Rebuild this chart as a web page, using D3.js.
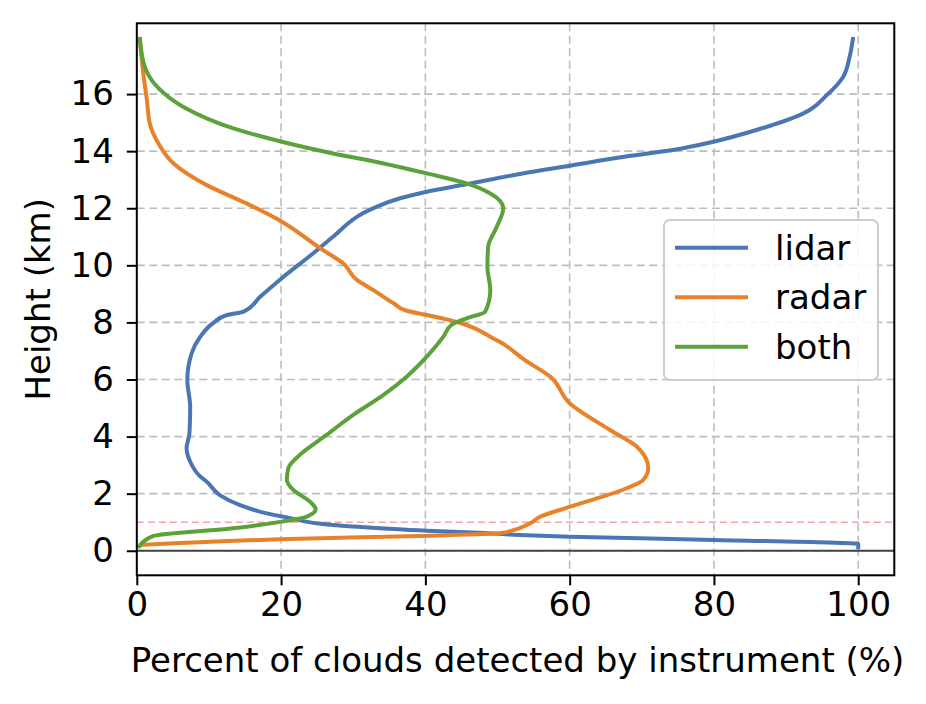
<!DOCTYPE html>
<html><head><meta charset="utf-8">
<script src="https://cdn.jsdelivr.net/npm/d3@7"></script>
<style>body{margin:0;background:#fff}svg{display:block}text{font-family:"DejaVu Sans",sans-serif;fill:#000}</style>
</head><body><svg id="c" width="926" height="704"></svg>
<script>
const seriesNames = ["lidar","radar","both"];
const seriesColors = ["#4a76b4","#e8822a","#5ba23b"];
const lidar = [[100,0.05],[100,0.24],[80,0.38],[60,0.49],[53.1,0.55],[45.7,0.65],[40.2,0.7],[33.7,0.79],[27.2,0.9],[20.8,1.17],[18.0,1.31],[14.3,1.6],[11.5,1.95],[9.7,2.42],[8.8,2.6],[7.4,3.12],[6.9,3.59],[7.3,4.12],[7.4,5.05],[7.0,5.98],[7.6,6.92],[8.8,7.5],[10.6,7.98],[12.5,8.26],[14.8,8.38],[17.1,8.9],[20.1,9.55],[24.5,10.43],[27.2,11.0],[31.4,11.83],[33.2,12.05],[36.5,12.35],[40.2,12.58],[45.7,12.84],[53.1,13.2],[60,13.49],[68,13.82],[74.5,14.05],[79.9,14.33],[86,14.75],[91.9,15.26],[95.8,16.0],[97.9,16.6],[98.8,17.3],[99.3,18.0]];
const radar = [[0.3,0.2],[19.8,0.4],[39.3,0.52],[50.3,0.61],[54.5,0.96],[55.9,1.19],[60,1.54],[67.9,2.19],[70.2,2.48],[70.9,2.89],[69.3,3.65],[65.6,4.23],[60,5.17],[57.3,6.1],[53.8,6.68],[50.3,7.32],[49.4,7.44],[45.7,7.91],[43.4,8.08],[40.2,8.26],[37.4,8.41],[35.6,8.67],[32.8,9.13],[30.5,9.49],[28.6,10.07],[25.4,10.6],[20.1,11.53],[15.2,12.17],[9.7,12.81],[5.1,13.57],[3.0,14.27],[1.8,14.97],[1.4,15.79],[0.9,16.72],[0.4,18.0]];
const both = [[0.2,0.1],[2.3,0.52],[13.4,0.79],[20.1,1.02],[23.5,1.19],[24.8,1.45],[24.0,1.72],[21.7,2.13],[20.8,2.48],[21.0,2.89],[22.6,3.36],[26.3,4.06],[30.0,4.76],[34.2,5.46],[37.4,6.1],[40.2,6.8],[42.5,7.5],[43.6,7.91],[45.7,8.14],[48.3,8.38],[49,9.13],[48.6,9.95],[48.7,10.65],[49.9,11.35],[50.8,12.0],[49,12.52],[45.7,12.87],[40.2,13.22],[34.2,13.57],[27.2,13.92],[20.1,14.33],[13.4,14.8],[6.4,15.56],[2.8,16.26],[1.1,16.96],[0.4,18.0]];
const xTicks = [0,20,40,60,80,100];
const yTicks = [0,2,4,6,8,10,12,14,16];
const xLabel = "Percent of clouds detected by instrument (%)";
const yLabel = "Height (km)";

const svg = d3.select("#c");
const L=136.8,R=894.3,T=23.3,B=575.3;
const x = d3.scaleLinear().domain([0,105]).range([L,R]);
const y = d3.scaleLinear().domain([-0.86,18.48]).range([B,T]);

const g = svg.append("g");
g.selectAll(".gx").data(xTicks).join("line").attr("x1",d=>x(d)).attr("x2",d=>x(d)).attr("y1",T).attr("y2",B)
 .attr("stroke","#bdbdbd").attr("stroke-width",1.6).attr("stroke-dasharray","8,4.5");
g.selectAll(".gy").data(yTicks).join("line").attr("y1",d=>y(d)).attr("y2",d=>y(d)).attr("x1",L).attr("x2",R)
 .attr("stroke","#bdbdbd").attr("stroke-width",1.6).attr("stroke-dasharray","8,4.5");
g.append("line").attr("x1",L).attr("x2",R).attr("y1",y(0)).attr("y2",y(0)).attr("stroke","#444").attr("stroke-width",2);
g.append("line").attr("x1",L).attr("x2",R).attr("y1",y(1)).attr("y2",y(1)).attr("stroke","#f2a5a5").attr("stroke-width",1.5).attr("stroke-dasharray","7,4");

const line = d3.line().x(d=>x(d[0])).y(d=>y(d[1])).curve(d3.curveMonotoneY);
[lidar,radar,both].forEach((s,i)=>{
  g.append("path").attr("d",line(s)).attr("fill","none").attr("stroke",seriesColors[i]).attr("stroke-width",4).attr("stroke-linejoin","round");
});

const xa = svg.append("g").attr("transform",`translate(0,${B})`).call(d3.axisBottom(x).tickValues(xTicks).tickSize(10).tickPadding(7).tickFormat(d3.format("d")));
const ya = svg.append("g").attr("transform",`translate(${L},0)`).call(d3.axisLeft(y).tickValues(yTicks).tickSize(10).tickPadding(13).tickFormat(d3.format("d")));
[xa,ya].forEach(a=>{a.select(".domain").remove();a.selectAll("line").attr("stroke","#000").attr("stroke-width",2);
  a.selectAll("text").attr("font-size",34).attr("font-family","DejaVu Sans").attr("fill","#000");});
svg.append("rect").attr("x",L).attr("y",T).attr("width",R-L).attr("height",B-T).attr("fill","none").attr("stroke","#000").attr("stroke-width",2);

svg.append("text").attr("x",(L+R)/2+2).attr("y",672).attr("text-anchor","middle").attr("font-size",34).text(xLabel);
svg.append("text").attr("transform",`translate(50,${(T+B)/2}) rotate(-90)`).attr("text-anchor","middle").attr("font-size",34).text(yLabel);

const lg = svg.append("g");
lg.append("rect").attr("x",664).attr("y",220).attr("width",214).attr("height",160).attr("rx",6)
  .attr("fill","#fff").attr("fill-opacity",0.85).attr("stroke","#cccccc").attr("stroke-width",2);
seriesNames.forEach((n,i)=>{
  const yy = 247.7 + i*49.5;
  lg.append("line").attr("x1",675).attr("x2",748).attr("y1",yy).attr("y2",yy).attr("stroke",seriesColors[i]).attr("stroke-width",4);
  lg.append("text").attr("x",775).attr("y",yy+12).attr("font-size",34).text(n);
});
</script></body></html>
